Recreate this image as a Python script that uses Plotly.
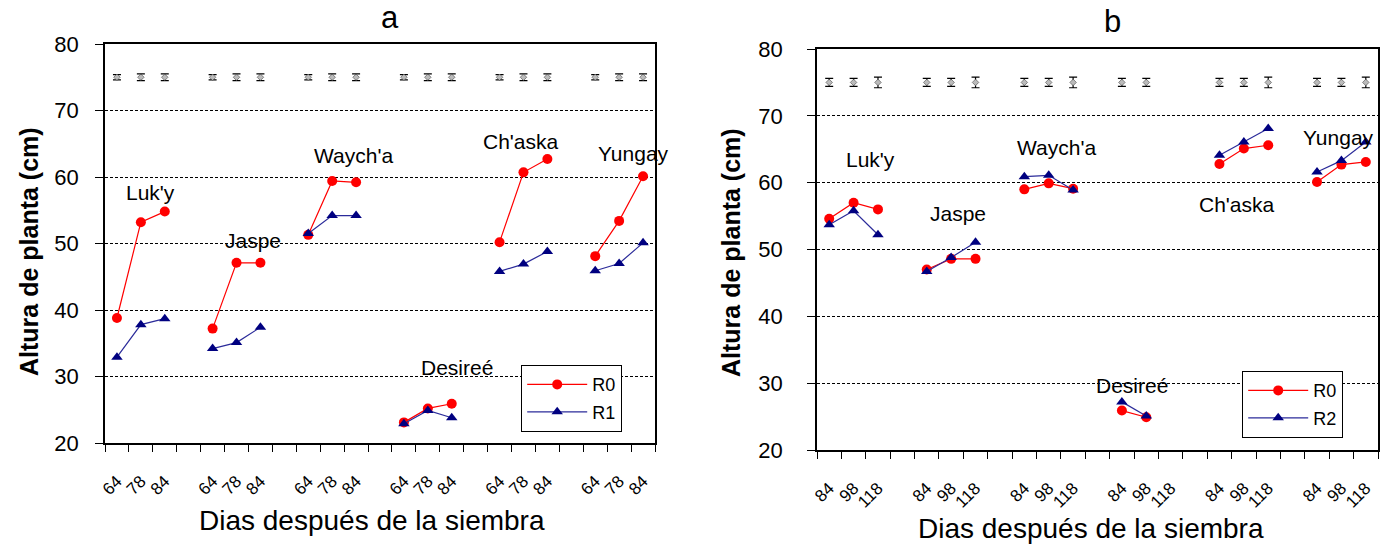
import plotly.graph_objects as go

# ---------------- data ----------------
cultivars = ["Luk'y", "Jaspe", "Waych'a", "Desireé", "Ch'aska", "Yungay"]
days_a = ["64", "78", "84"]
days_b = ["84", "98", "118"]

a_R0 = [[38.8, 53.2, 54.8], [37.2, 47.1, 47.1], [51.3, 59.4, 59.2],
        [23.1, 25.2, 25.9], [50.2, 60.7, 62.7], [48.1, 53.4, 60.1]]
a_R1 = [[32.9, 37.8, 38.7], [34.2, 35.1, 37.4], [51.5, 54.2, 54.2],
        [22.9, 24.9, 23.8], [45.8, 46.9, 48.8], [45.9, 47.0, 50.1]]
b_R0 = [[54.6, 57.0, 56.0], [47.0, 48.6, 48.6], [59.0, 59.9, 59.1],
        [25.9, 24.9, None], [62.8, 65.1, 65.6], [60.1, 62.7, 63.1]]
b_R2 = [[53.7, 55.8, 52.2], [46.7, 48.8, 51.1], [60.9, 61.1, 58.9],
        [27.2, 25.1, None], [64.1, 66.1, 68.1], [61.6, 63.3, 66.1]]

# error-bar row drawn near the top of each panel
err_level = 75
err_a = [[0.4, 0.5, 0.5], [0.4, 0.5, 0.5], [0.4, 0.5, 0.5],
         [0.4, 0.5, 0.5], [0.4, 0.5, 0.5], [0.4, 0.5, 0.5]]
err_b = [[0.6, 0.6, 0.8], [0.6, 0.6, 0.8], [0.6, 0.6, 0.8],
         [0.6, 0.6, None], [0.6, 0.6, 0.8], [0.6, 0.6, 0.8]]

# label positions (category units, cm)
lab_a = [(1.4, 57.7), (5.7, 50.5), (9.9, 63.3), (14.2, 31.4), (16.9, 65.3), (21.6, 63.5)]
lab_b = [(1.7, 63.5), (5.3, 55.4), (9.3, 65.2), (12.4, 29.7), (16.7, 56.8), (20.9, 66.8)]

FONT = "Arial, Liberation Sans, sans-serif"
RED = "#FF0000"
NAVY = "#000080"


def flatten(groups):
    xs, ys = [], []
    for g, vals in enumerate(groups):
        for i, v in enumerate(vals):
            xs.append(g * (len(vals) + 1) + i)
            ys.append(v)
        xs.append(g * (len(vals) + 1) + len(vals))
        ys.append(None)
    return xs[:-1], ys[:-1]


def ticks(days, n_groups):
    vals, text = [], []
    for g in range(n_groups):
        for i, d in enumerate(days):
            vals.append(g * (len(days) + 1) + i)
            text.append(d)
    return vals, text


fig = go.Figure()


def add_panel(xa, ya, s0, s1, name1, err, legend):
    x0, y0 = flatten(s0)
    x1, y1 = flatten(s1)
    xe, ee = flatten(err)
    xe2 = [x for x, e in zip(xe, ee) if e is not None]
    ee2 = [e for e in ee if e is not None]
    fig.add_trace(go.Scatter(
        x=xe2, y=[err_level] * len(xe2), mode="markers", xaxis=xa, yaxis=ya,
        marker=dict(symbol="diamond", size=5, color="#BBBBBB",
                    line=dict(color="#444444", width=0.6)),
        error_y=dict(type="data", array=ee2, color="black", thickness=1.2, width=4),
        showlegend=False, hoverinfo="skip"))
    fig.add_trace(go.Scatter(
        x=x0, y=y0, mode="lines+markers", name="R0", xaxis=xa, yaxis=ya,
        line=dict(color=RED, width=1.2), marker=dict(symbol="circle", size=10, color=RED),
        connectgaps=False, legend=legend, legendgroup=legend + "r0"))
    fig.add_trace(go.Scatter(
        x=x1, y=y1, mode="lines+markers", name=name1, xaxis=xa, yaxis=ya,
        line=dict(color="#2B2B9A", width=1.2),
        marker=dict(symbol="triangle-up", size=10, color=NAVY),
        connectgaps=False, legend=legend, legendgroup=legend + "r1"))


add_panel("x", "y", a_R0, a_R1, "R1", err_a, "legend")
add_panel("x2", "y2", b_R0, b_R2, "R2", err_b, "legend2")

W, H = 1382, 546
tv_a, tt_a = ticks(days_a, len(cultivars))
tv_b, tt_b = ticks(days_b, len(cultivars))
n_cat = len(cultivars) * 4 - 1
bounds = [i - 0.5 for i in range(n_cat + 1)]


def xaxis(dom, tv, tt, anchor):
    return dict(domain=dom, anchor=anchor, range=[-0.5, n_cat - 0.5], tickmode="array",
                tickvals=tv, ticktext=tt, tickangle=-45, ticks="",
                tickfont=dict(family=FONT, size=17, color="black"),
                ticklabelstandoff=20, automargin=False,
                showline=True, linecolor="black", linewidth=1.5, mirror=True,
                showgrid=False, zeroline=False,
                minor=dict(tickmode="array", tickvals=bounds, ticks="outside",
                           ticklen=7, tickcolor="black", tickwidth=1.2, showgrid=False))


def yaxis(dom, anchor, standoff):
    return dict(domain=dom, anchor=anchor, range=[20, 80], tickmode="linear",
                tick0=20, dtick=10, ticks="outside", ticklen=8, tickcolor="black",
                tickwidth=1.2, tickfont=dict(family=FONT, size=22, color="black"),
                ticklabelstandoff=standoff, automargin=False,
                showline=True, linecolor="black", linewidth=1.5, mirror=True,
                showgrid=True, gridcolor="black", gridwidth=1, griddash="3px,2px",
                zeroline=False)


xa_dom = [105 / W, 655 / W]
xb_dom = [817 / W, 1378 / W]
ya_dom = [1 - 443 / H, 1 - 44 / H]
yb_dom = [1 - 450 / H, 1 - 49 / H]

annotations = []
for (name, (lx, ly)) in zip(cultivars, lab_a):
    annotations.append(dict(x=lx, y=ly, xref="x", yref="y", text=name, showarrow=False,
                            xanchor="center", yanchor="middle",
                            font=dict(family=FONT, size=21, color="black")))
for (name, (lx, ly)) in zip(cultivars, lab_b):
    annotations.append(dict(x=lx, y=ly, xref="x2", yref="y2", text=name, showarrow=False,
                            xanchor="center", yanchor="middle",
                            font=dict(family=FONT, size=21, color="black")))

for txt, px, py in [("a", 390, 18), ("b", 1112, 22)]:
    annotations.append(dict(x=px / W, y=1 - py / H, xref="paper", yref="paper", text=txt,
                            showarrow=False, xanchor="center", yanchor="middle",
                            font=dict(family=FONT, size=31, color="black")))
for px, py in [(372, 520), (1091, 528)]:
    annotations.append(dict(x=px / W, y=1 - py / H, xref="paper", yref="paper",
                            text="Dias después de la siembra", showarrow=False,
                            xanchor="center", yanchor="middle",
                            font=dict(family=FONT, size=28, color="black")))
for px, py in [(29, 252), (731, 253)]:
    annotations.append(dict(x=px / W, y=1 - py / H, xref="paper", yref="paper",
                            text="<b>Altura de planta (cm)</b>", showarrow=False,
                            textangle=-90, xanchor="center", yanchor="middle",
                            font=dict(family=FONT, size=25, color="black")))

legend_style = dict(bgcolor="white", bordercolor="black", borderwidth=1.2,
                    font=dict(family=FONT, size=18, color="black"),
                    xanchor="left", yanchor="top", traceorder="grouped",
                    tracegroupgap=1, itemwidth=60)

fig.update_layout(
    template="none",
    width=W, height=H, margin=dict(l=0, r=0, t=0, b=0, autoexpand=False),
    paper_bgcolor="white", plot_bgcolor="white",
    xaxis=xaxis(xa_dom, tv_a, tt_a, "y"),
    xaxis2=xaxis(xb_dom, tv_b, tt_b, "y2"),
    yaxis=yaxis(ya_dom, "x", 12),
    yaxis2=yaxis(yb_dom, "x2", 20),
    annotations=annotations,
    legend=dict(x=521 / W, y=1 - 365 / H, **legend_style),
    legend2=dict(x=1242 / W, y=1 - 371 / H, **legend_style),
    showlegend=True,
)

fig.write_html("out.html", config={"displayModeBar": False},
               post_script="document.body.style.margin='0px';document.body.style.overflow='hidden';")
